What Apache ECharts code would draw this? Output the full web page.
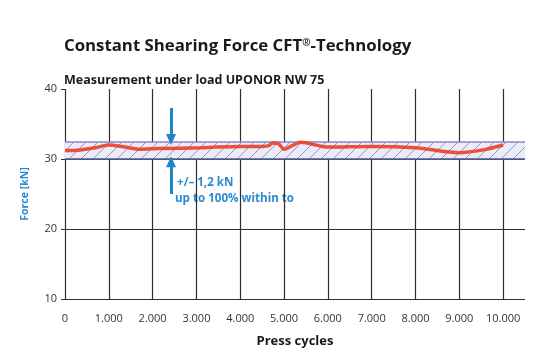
<!DOCTYPE html>
<html><head><meta charset="utf-8">
<script src="https://cdn.jsdelivr.net/npm/echarts@6/dist/echarts.min.js"></script>
<style>html,body{margin:0;padding:0;background:#fff}#c{width:544px;height:362px}</style>
</head><body><div id="c"></div>
<script>
const cycles = [0, 340, 690, 1000, 1370, 1720, 2170, 3090, 3430, 4000, 4530, 4650, 4740, 4870, 5000, 5380, 6000, 6980, 8000, 9000, 9540, 10000];
const force  = [31.2, 31.3, 31.6, 32.0, 31.7, 31.4, 31.5, 31.6, 31.7, 31.8, 31.8, 31.9, 32.3, 32.2, 31.4, 32.4, 31.7, 31.8, 31.6, 30.9, 31.3, 32.0];
const bandLow = 30.0, bandHigh = 32.4;
const arrowX = 2420;
const xTicks = [0, 1000, 2000, 3000, 4000, 5000, 6000, 7000, 8000, 9000, 10000];
const yTicks = [10, 20, 30, 40];

const fontF = '"Open Sans", "Noto Sans", sans-serif';
// hatch pattern
const pc = document.createElement('canvas');
pc.width = 12; pc.height = 12;
const g = pc.getContext('2d');
g.fillStyle = '#ecebf7'; g.fillRect(0,0,12,12);
g.strokeStyle = '#8e98cf'; g.lineWidth = 1;
g.beginPath(); g.moveTo(0,12); g.lineTo(12,0); g.moveTo(-6,6); g.lineTo(6,-6); g.moveTo(6,18); g.lineTo(18,6); g.stroke();

const chart = echarts.init(document.getElementById('c'), null, {renderer:'canvas'});
chart.setOption({
  backgroundColor: '#fff',
  animation: false,
  title: [
    {text: '{a|Constant Shearing Force CFT}{s|®}{a|-Technology}', left: 59, top: 33,
     textStyle: {rich: {
       a: {fontFamily: fontF, fontWeight: 'bold', fontSize: 16.8, color: '#1a1a1a'},
       s: {fontFamily: fontF, fontWeight: 'bold', fontSize: 10, color: '#1a1a1a', verticalAlign: 'top', padding: [0, 0, 6, 0]}
     }}},
    {text: 'Measurement under load UPONOR NW 75', left: 59, top: 69,
     textStyle: {fontFamily: fontF, fontWeight: 'bold', fontSize: 12.5, color: '#1a1a1a'}}
  ],
  grid: {left: 65, right: 19, top: 89, bottom: 63},
  xAxis: {
    type: 'value', min: 0, max: 10500, interval: 1000,
    axisLine: {show: false}, axisTick: {show: false},
    axisLabel: {showMaxLabel: false, margin: 14, color: '#333', fontFamily: fontF, fontSize: 11,
      formatter: v => xTicks.includes(v) ? (v >= 1000 ? Math.floor(v/1000) + '.' + String(v%1000).padStart(3,'0') : String(v)) : ''},
    splitLine: {show: true, showMaxLine: false, lineStyle: {color: '#2e2e2e', width: 1.2}},
    name: 'Press cycles', nameLocation: 'middle', nameGap: 36,
    nameTextStyle: {fontFamily: fontF, fontWeight: 'bold', fontSize: 13, color: '#1a1a1a'}
  },
  yAxis: {
    type: 'value', min: 10, max: 40, interval: 10,
    axisLine: {show: false},
    axisTick: {show: true, length: 4, lineStyle: {color: '#333'}},
    axisLabel: {margin: 8, color: '#333', fontFamily: fontF, fontSize: 11,
      formatter: v => yTicks.includes(v) ? String(v) : ''},
    splitLine: {show: true, showMaxLine: false, lineStyle: {color: ['#2e2e2e', '#2e2e2e', '#4b5a86'], width: 1.2}},
    name: 'Force [kN]', nameLocation: 'middle', nameGap: 34, nameRotate: 90,
    nameTextStyle: {fontFamily: fontF, fontWeight: 'bold', fontSize: 10.5, color: '#2a8bd0'}
  },
  series: [
    {
      type: 'line', data: [], silent: true,
      markArea: {silent: true, itemStyle: {color: {image: pc, repeat: 'repeat'}},
        data: [[{coord: [0, bandLow]}, {coord: [10500, bandHigh]}]]},
      markLine: {silent: true, symbol: 'none', label: {show: false},
        lineStyle: {color: '#8088c8', width: 1.5, type: 'solid'},
        data: [[{coord: [0, bandHigh]}, {coord: [10500, bandHigh]}],
               [{coord: [0, bandLow], lineStyle: {color: '#4b5a86', width: 1.6}}, {coord: [10500, bandLow]}]]}
    },
    {
      type: 'line', data: cycles.map((c,i) => [c, force[i]]),
      showSymbol: false, smooth: 0.3,
      lineStyle: {color: '#e8432b', width: 3.5, opacity: 0.92},
      z: 5
    },
    {
      type: 'line', data: [], silent: true, z: 6,
      markLine: {silent: true, symbol: ['none', 'triangle'], symbolSize: [10, 11], label: {show: false},
        lineStyle: {color: '#1f84c9', width: 3, type: 'solid'},
        data: [[{coord: [arrowX, 37.3]}, {coord: [arrowX, 32.8]}],
               [{coord: [arrowX, 25.0]}, {coord: [arrowX, 29.6]}]]}
    }
  ],
  graphic: [
    {type: 'text', left: 177, top: 177, style: {text: '+/\u2013 1,2 kN', fill: '#2a8bd0', font: 'bold 11.6px ' + fontF}},
    {type: 'text', left: 175, top: 193, style: {text: 'up to 100% within to', fill: '#2a8bd0', font: 'bold 11.6px ' + fontF}}
  ]
});
</script></body></html>
